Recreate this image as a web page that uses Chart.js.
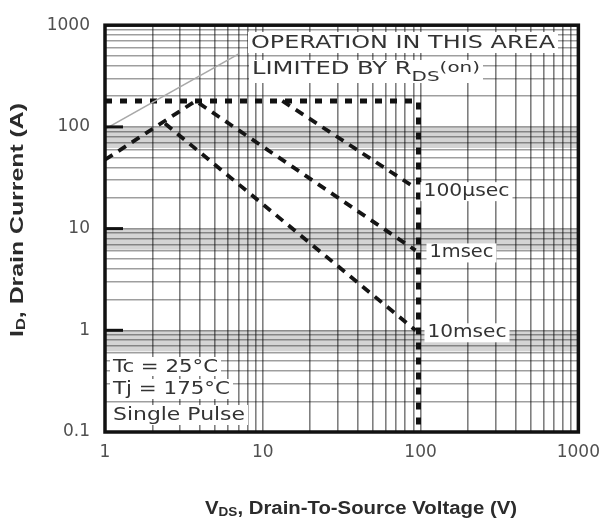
<!DOCTYPE html>
<html>
<head>
<meta charset="utf-8">
<script src="https://cdn.jsdelivr.net/npm/chart.js@4.4.0/dist/chart.umd.min.js"></script>
<style>
  html, body { margin: 0; padding: 0; background: #fff; }
  #wrap { width: 610px; height: 524px; position: relative; }
</style>
</head>
<body>
<div id="wrap"><canvas id="soa"></canvas></div>
<script>
// Safe operating area, log-log (V in volts, I in amps)
const rdsV = [1, 7];
const rdsI = [95, 520];

const limitV = [1, 97, 97];
const limitI = [180, 180, 0.1];

const us100V = [13.3, 93];
const us100I = [180, 25];

const ms1V = [1, 3.75, 93];
const ms1I = [47.5, 180, 6.1];

const ms10V = [2.4, 93];
const ms10I = [108, 1.0];

const xDecades = [1, 10, 100];
const yDecades = [0.1, 1, 10, 100];
const minorSteps = [1, 2, 3, 4, 5, 6, 7, 8, 9];
const xTickLabels = ['1', '10', '100', '1000'];
const yTickLabels = ['0.1', '1', '10', '100', '1000'];

// shaded bands just below each decade line
const bandRanges = [[100, 62], [10, 6.2], [1, 0.62]];

const gridX = xDecades.flatMap(d => minorSteps.map(m => d * m)).concat([1000]);
const gridY = yDecades.flatMap(d => minorSteps.map(m => +(d * m).toPrecision(6))).concat([1000]);

function toPoints(xs, ys) {
    return xs.map((v, i) => ({ x: v, y: ys[i] }));
}

function decadeLabel(value, labels) {
    const e = Math.log10(value);
    if (Math.abs(e - Math.round(e)) > 1e-6) return '';
    const s = labels.find(l => Math.abs(parseFloat(l) - value) < 1e-9);
    return s || '';
}

// draw a run of text pieces, stretched to a given width
function drawFitted(ctx, parts, x, y, width, opts) {
    opts = opts || {};
    let total = 0;
    parts.forEach(p => { ctx.font = p[1]; total += ctx.measureText(p[0]).width; });
    const s = width / total;
    ctx.save();
    ctx.translate(x, y);
    if (opts.rotate) ctx.rotate(opts.rotate);
    let cx = opts.align === 'center' ? -width / 2 : 0;
    if (opts.bg) {
        ctx.fillStyle = '#fff';
        ctx.fillRect(cx - 3, -opts.bg[0], width + 6, opts.bg[0] + opts.bg[1]);
    }
    ctx.scale(s, 1);
    cx = cx / s;
    ctx.fillStyle = opts.color || '#333';
    ctx.textBaseline = 'alphabetic';
    ctx.textAlign = 'left';
    parts.forEach(p => {
        ctx.font = p[1];
        ctx.fillText(p[0], cx, p[2] || 0);
        cx += ctx.measureText(p[0]).width;
    });
    ctx.restore();
}

const noteFont = '17px "DejaVu Sans"';
const smallFont = '14px "DejaVu Sans"';
const titleFont = 'bold 18px "Liberation Sans"';
const titleSub = 'bold 12px "Liberation Sans"';

const soaDecor = {
    id: 'soaDecor',
    beforeDraw(chart) {
        const { ctx, chartArea: a, scales: { y } } = chart;
        ctx.save();
        ctx.fillStyle = 'rgba(0,0,0,0.17)';
        bandRanges.forEach(([hi, lo]) => {
            const y1 = y.getPixelForValue(hi);
            const y2 = y.getPixelForValue(lo);
            ctx.fillRect(a.left, y1, a.right - a.left, y2 - y1);
        });
        ctx.restore();
    },
    afterDraw(chart) {
        const { ctx, chartArea: a, scales: { x, y } } = chart;
        ctx.save();

        // short decade ticks on the left edge
        ctx.strokeStyle = '#111';
        ctx.lineWidth = 3;
        [1, 10, 100].forEach(v => {
            const py = y.getPixelForValue(v);
            ctx.beginPath();
            ctx.moveTo(a.left, py);
            ctx.lineTo(a.left + 18, py);
            ctx.stroke();
        });

        // frame
        ctx.lineWidth = 3.5;
        ctx.strokeStyle = '#111';
        ctx.strokeRect(a.left, a.top, a.right - a.left, a.bottom - a.top);

        // region note
        drawFitted(ctx, [['OPERATION IN THIS AREA', noteFont]], 251, 48, 304, { bg: [16, 5] });
        drawFitted(ctx, [
            ['LIMITED BY R', noteFont],
            ['DS', smallFont, 7],
            ['(on)', smallFont, -2]
        ], 252, 74, 228, { bg: [14, 9] });

        // pulse labels next to the line ends
        const xl = x.getPixelForValue(limitV[1]) + 5;
        drawFitted(ctx, [['100\u00b5sec', noteFont]], xl, y.getPixelForValue(us100I[1]) + 8, 86, { bg: [14, 5] });
        drawFitted(ctx, [['1msec', noteFont]], xl + 6, y.getPixelForValue(ms1I[2]) + 7, 64, { bg: [14, 5] });
        drawFitted(ctx, [['10msec', noteFont]], xl + 4, y.getPixelForValue(ms10I[1]) + 7, 79, { bg: [14, 5] });

        // conditions
        drawFitted(ctx, [['Tc = 25\u00b0C', noteFont]], 113, 372, 105, { bg: [15, 4] });
        drawFitted(ctx, [['Tj = 175\u00b0C', noteFont]], 113, 394, 117, { bg: [15, 5] });
        drawFitted(ctx, [['Single Pulse', noteFont]], 113, 420, 132, { bg: [15, 5] });

        // axis titles
        drawFitted(ctx, [
            ['V', titleFont],
            ['DS', titleSub, 2],
            [', Drain-To-Source Voltage (V)', titleFont]
        ], 361, 514, 312, { align: 'center', color: '#2b2b2b' });
        drawFitted(ctx, [
            ['I', titleFont],
            ['D', titleSub, 2],
            [', Drain Current (A)', titleFont]
        ], 23, 220, 234, { align: 'center', rotate: -Math.PI / 2, color: '#2b2b2b' });

        ctx.restore();
    }
};

const dashed = { borderColor: '#151515', borderWidth: 3.8, borderDash: [9, 7], pointRadius: 0, fill: false, tension: 0 };

new Chart(document.getElementById('soa').getContext('2d'), {
    type: 'line',
    data: {
        datasets: [
            { label: 'RDS(on)', data: toPoints(rdsV, rdsI), borderColor: '#a8a8a8', borderWidth: 1.6, pointRadius: 0, fill: false },
            { label: 'Limit', data: toPoints(limitV, limitI), borderColor: '#111', borderWidth: 5, borderDash: [7, 8], pointRadius: 0, fill: false },
            Object.assign({ label: '100us', data: toPoints(us100V, us100I) }, dashed),
            Object.assign({ label: '1ms', data: toPoints(ms1V, ms1I) }, dashed),
            Object.assign({ label: '10ms', data: toPoints(ms10V, ms10I) }, dashed)
        ]
    },
    options: {
        responsive: true,
        maintainAspectRatio: false,
        animation: false,
        layout: { padding: { top: 18, right: 24, bottom: 0, left: 0 } },
        plugins: {
            legend: { display: false },
            tooltip: { enabled: false }
        },
        scales: {
            x: {
                type: 'logarithmic',
                min: 1,
                max: 1000,
                afterFit: s => { s.height = 92; },
                afterBuildTicks: s => { s.ticks = gridX.map(v => ({ value: v })); },
                border: { display: false },
                grid: { color: 'rgba(0,0,0,0.5)', lineWidth: 1.6, drawTicks: false },
                ticks: {
                    autoSkip: false,
                    maxRotation: 0,
                    padding: 10,
                    color: '#505050',
                    font: { family: 'DejaVu Sans', size: 17 },
                    callback: v => decadeLabel(v, xTickLabels)
                }
            },
            y: {
                type: 'logarithmic',
                min: 0.1,
                max: 1000,
                afterFit: s => { s.width = 105; },
                afterBuildTicks: s => { s.ticks = gridY.map(v => ({ value: v })); },
                border: { display: false },
                grid: { color: 'rgba(0,0,0,0.38)', lineWidth: 1.6, drawTicks: false },
                ticks: {
                    autoSkip: false,
                    padding: 15,
                    color: '#505050',
                    font: { family: 'DejaVu Sans', size: 17 },
                    callback: v => decadeLabel(v, yTickLabels)
                }
            }
        }
    },
    plugins: [soaDecor]
});
</script>
</body>
</html>
